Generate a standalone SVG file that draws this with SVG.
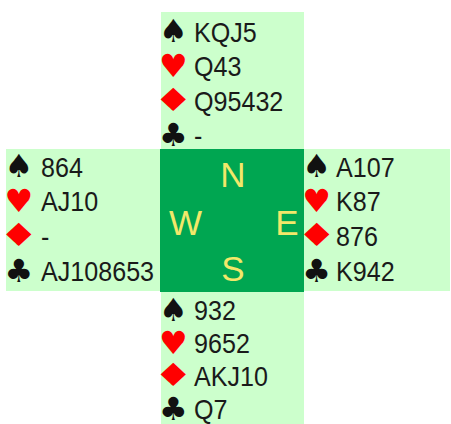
<svg xmlns="http://www.w3.org/2000/svg" width="451" height="424" viewBox="0 0 451 424">
<style>
.box{fill:#ccffcc}
.ctr{fill:#00a651}
.t{font-family:"Liberation Sans",Arial,sans-serif;font-size:27px;fill:#1a1a1a}
.s{font-family:"DejaVu Sans",sans-serif;font-size:32px;text-anchor:middle}
.blk{fill:#111}
.red{fill:#ff0000}
.d{font-family:"Liberation Sans",Arial,sans-serif;font-size:35px;fill:#f2e86a;text-anchor:middle}
</style>
<rect width="451" height="424" fill="#ffffff"/>
<g id="north">
<rect class="box" x="161" y="12" width="143" height="137"/>
<text class="s blk" x="173.3" y="42">♠</text><text class="t" transform="translate(194,41.5) scale(0.93,1)">KQJ5</text>
<text class="s red" x="173.3" y="76.5">♥</text><text class="t" transform="translate(194,76) scale(0.93,1)">Q43</text>
<text class="s red" transform="translate(173.3,110.5) scale(1.4,1)">♦</text><text class="t" transform="translate(194,110.5) scale(0.93,1)">Q95432</text>
<text class="s blk" x="173.3" y="146">♣</text><text class="t" transform="translate(194,145) scale(0.93,1)">-</text>
</g>
<g id="west">
<rect class="box" x="6" y="149" width="154" height="142"/>
<text class="s blk" x="18.8" y="177">♠</text><text class="t" transform="translate(41,176.5) scale(0.93,1)">864</text>
<text class="s red" x="18.8" y="211.5">♥</text><text class="t" transform="translate(41,211) scale(0.93,1)">AJ10</text>
<text class="s red" transform="translate(18.8,245.5) scale(1.4,1)">♦</text><text class="t" transform="translate(41,245.5) scale(0.93,1)">-</text>
<text class="s blk" x="18.8" y="281.5">♣</text><text class="t" transform="translate(41,280.5) scale(0.93,1)">AJ108653</text>
</g>
<g id="east">
<rect class="box" x="304" y="149" width="146" height="142"/>
<text class="s blk" x="316.7" y="177">♠</text><text class="t" transform="translate(336,176.5) scale(0.93,1)">A107</text>
<text class="s red" x="316.7" y="211.5">♥</text><text class="t" transform="translate(336,211) scale(0.93,1)">K87</text>
<text class="s red" transform="translate(316.7,245.5) scale(1.4,1)">♦</text><text class="t" transform="translate(336,245.5) scale(0.93,1)">876</text>
<text class="s blk" x="316.7" y="281.5">♣</text><text class="t" transform="translate(336,280.5) scale(0.93,1)">K942</text>
</g>
<g id="south">
<rect class="box" x="161" y="292" width="143" height="132"/>
<text class="s blk" x="173.3" y="320.5">♠</text><text class="t" transform="translate(194,320) scale(0.93,1)">932</text>
<text class="s red" x="173.3" y="353.5">♥</text><text class="t" transform="translate(194,353) scale(0.93,1)">9652</text>
<text class="s red" transform="translate(173.3,386) scale(1.4,1)">♦</text><text class="t" transform="translate(194,386) scale(0.93,1)">AKJ10</text>
<text class="s blk" x="173.3" y="420">♣</text><text class="t" transform="translate(194,419) scale(0.93,1)">Q7</text>
</g>
<g id="compass">
<rect class="ctr" x="160" y="149" width="144" height="143"/>
<text class="d" x="233" y="187">N</text>
<text class="d" x="185.5" y="235">W</text>
<text class="d" x="287" y="235">E</text>
<text class="d" x="233" y="281">S</text>
</g>
<g id="connectors"></g>
</svg>
